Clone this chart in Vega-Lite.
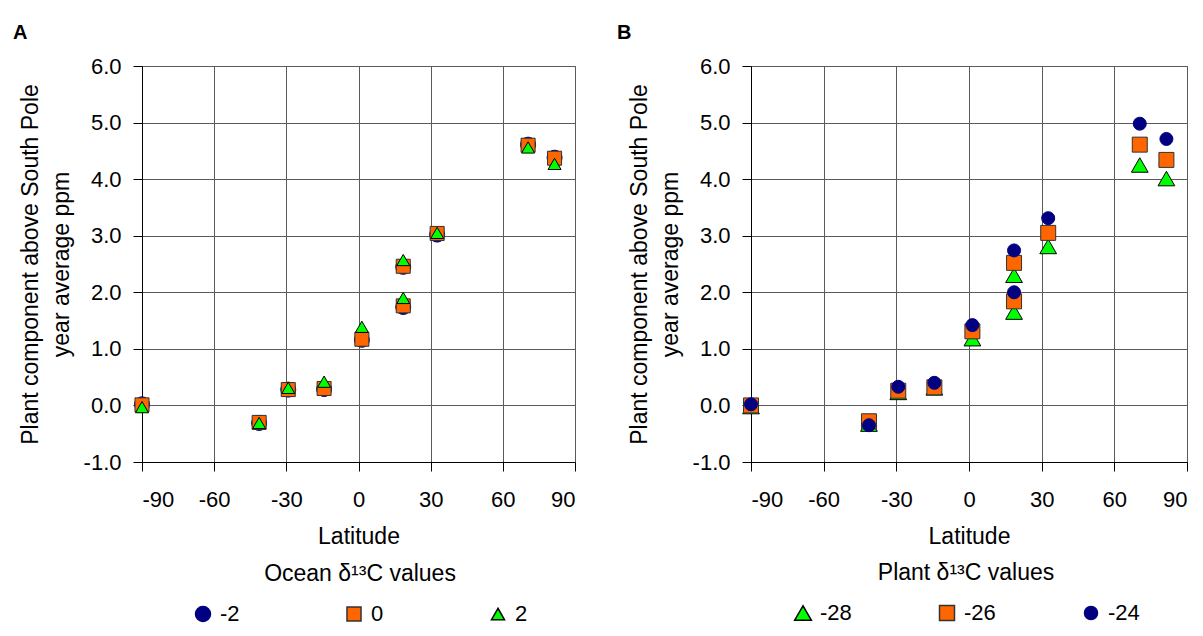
{
  "$schema": "https://vega.github.io/schema/vega-lite/v6.json",
  "background": "white",
  "padding": {"left": 12, "top": 22, "right": 0, "bottom": 0},
  "spacing": 40,
  "resolve": {
    "scale": {"shape": "independent", "fill": "independent", "stroke": "independent", "size": "independent"},
    "legend": {"shape": "independent", "fill": "independent", "stroke": "independent", "size": "independent"}
  },
  "config": {
    "font": "Liberation Sans",
    "view": {"stroke": "#666666", "strokeWidth": 1},
    "axis": {
      "labelFont": "Liberation Sans", "labelFontSize": 22, "labelColor": "#000000",
      "titleFont": "Liberation Sans", "titleFontSize": 23, "titleFontWeight": "normal", "titleColor": "#000000",
      "domainColor": "#000000", "tickColor": "#000000", "tickSize": 9,
      "grid": true, "gridColor": "#5a5a5a", "gridOpacity": 1
    },
    "legend": {
      "labelFont": "Liberation Sans", "labelFontSize": 22, "labelColor": "#000000",
      "titleFont": "Liberation Sans", "titleFontSize": 23, "titleFontWeight": "normal", "titleColor": "#000000",
      "titleLimit": 400, "labelOffset": 6
    },
    "title": {"font": "Liberation Sans", "fontSize": 20, "fontWeight": "bold", "anchor": "start", "color": "#000000"}
  },
  "hconcat": [
    {
      "width": 433,
      "height": 396,
      "title": {"text": "A", "offset": 12, "dx": -6, "fontSize": 20, "fontWeight": "bold", "font": "Liberation Sans", "color": "#000000"},
      "data": {"values": [
        {"lat": -90, "ppm": 0.02, "d13C": "-2"},
        {"lat": -41.3, "ppm": -0.31, "d13C": "-2"},
        {"lat": -29.2, "ppm": 0.28, "d13C": "-2"},
        {"lat": -14.3, "ppm": 0.29, "d13C": "-2"},
        {"lat": 1.4, "ppm": 1.16, "d13C": "-2"},
        {"lat": 18.6, "ppm": 1.74, "d13C": "-2"},
        {"lat": 18.6, "ppm": 2.45, "d13C": "-2"},
        {"lat": 32.7, "ppm": 3.02, "d13C": "-2"},
        {"lat": 70.5, "ppm": 4.61, "d13C": "-2"},
        {"lat": 81.5, "ppm": 4.38, "d13C": "-2"},
        {"lat": -90, "ppm": 0.01, "d13C": "0"},
        {"lat": -41.3, "ppm": -0.3, "d13C": "0"},
        {"lat": -29.2, "ppm": 0.28, "d13C": "0"},
        {"lat": -14.3, "ppm": 0.3, "d13C": "0"},
        {"lat": 1.4, "ppm": 1.17, "d13C": "0"},
        {"lat": 18.6, "ppm": 1.76, "d13C": "0"},
        {"lat": 18.6, "ppm": 2.46, "d13C": "0"},
        {"lat": 32.7, "ppm": 3.04, "d13C": "0"},
        {"lat": 70.5, "ppm": 4.6, "d13C": "0"},
        {"lat": 81.5, "ppm": 4.37, "d13C": "0"},
        {"lat": -90, "ppm": -0.03, "d13C": "2"},
        {"lat": -41.3, "ppm": -0.31, "d13C": "2"},
        {"lat": -29.2, "ppm": 0.31, "d13C": "2"},
        {"lat": -14.3, "ppm": 0.42, "d13C": "2"},
        {"lat": 1.4, "ppm": 1.39, "d13C": "2"},
        {"lat": 18.6, "ppm": 1.9, "d13C": "2"},
        {"lat": 18.6, "ppm": 2.57, "d13C": "2"},
        {"lat": 32.7, "ppm": 3.05, "d13C": "2"},
        {"lat": 70.5, "ppm": 4.56, "d13C": "2"},
        {"lat": 81.5, "ppm": 4.27, "d13C": "2"}
      ]},
      "mark": {"type": "point", "filled": true, "strokeWidth": 1, "opacity": 1},
      "encoding": {
        "x": {"field": "lat", "type": "quantitative",
          "scale": {"domain": [-90, 90], "nice": false, "zero": false},
          "axis": {"values": [-90, -60, -30, 0, 30, 60, 90], "labelExpr": "replace(format(datum.value, 'd'), '\u2212', '-')", "title": "Latitude", "labelPadding": 18, "titlePadding": 15}},
        "y": {"field": "ppm", "type": "quantitative",
          "scale": {"domain": [-1, 6], "nice": false, "zero": false},
          "axis": {"values": [-1, 0, 1, 2, 3, 4, 5, 6], "labelExpr": "replace(format(datum.value, '.1f'), '\u2212', '-')", "title": ["Plant component above South Pole", "year average ppm"], "titleLineHeight": 31, "labelPadding": 12, "titlePadding": 10}},
        "shape": {"field": "d13C", "type": "nominal",
          "scale": {"domain": ["-2", "0", "2"], "range": ["circle", "square", "triangle-up"]},
          "legend": {"orient": "none", "legendX": 50, "legendY": 497, "direction": "horizontal", "columns": 3, "columnPadding": 103, "title": "Ocean δ¹³C values", "titleAnchor": "middle", "titlePadding": 17}},
        "fill": {"field": "d13C", "type": "nominal",
          "scale": {"domain": ["-2", "0", "2"], "range": ["#000080", "#FF6600", "#00FF00"]},
          "legend": {"orient": "none", "legendX": 50, "legendY": 497, "direction": "horizontal", "columns": 3, "columnPadding": 103, "title": "Ocean δ¹³C values", "titleAnchor": "middle", "titlePadding": 17}},
        "stroke": {"field": "d13C", "type": "nominal",
          "scale": {"domain": ["-2", "0", "2"], "range": ["#000080", "#333333", "#000000"]},
          "legend": {"orient": "none", "legendX": 50, "legendY": 497, "direction": "horizontal", "columns": 3, "columnPadding": 103, "title": "Ocean δ¹³C values", "titleAnchor": "middle", "titlePadding": 17}},
        "size": {"field": "d13C", "type": "nominal",
          "scale": {"domain": ["-2", "0", "2"], "range": [225, 169, 280]},
          "legend": {"orient": "none", "legendX": 50, "legendY": 497, "direction": "horizontal", "columns": 3, "columnPadding": 103, "title": "Ocean δ¹³C values", "titleAnchor": "middle", "titlePadding": 17}}
      }
    },
    {
      "width": 436,
      "height": 396,
      "title": {"text": "B", "offset": 12, "dx": -11, "fontSize": 20, "fontWeight": "bold", "font": "Liberation Sans", "color": "#000000"},
      "data": {"values": [
        {"lat": -90, "ppm": -0.02, "d13C": "-28"},
        {"lat": -41.3, "ppm": -0.33, "d13C": "-28"},
        {"lat": -29.2, "ppm": 0.23, "d13C": "-28"},
        {"lat": -14.3, "ppm": 0.31, "d13C": "-28"},
        {"lat": 1.4, "ppm": 1.18, "d13C": "-28"},
        {"lat": 18.6, "ppm": 1.65, "d13C": "-28"},
        {"lat": 18.6, "ppm": 2.3, "d13C": "-28"},
        {"lat": 32.7, "ppm": 2.81, "d13C": "-28"},
        {"lat": 70.5, "ppm": 4.25, "d13C": "-28"},
        {"lat": 81.5, "ppm": 4.01, "d13C": "-28"},
        {"lat": -90, "ppm": 0.0, "d13C": "-26"},
        {"lat": -41.3, "ppm": -0.28, "d13C": "-26"},
        {"lat": -29.2, "ppm": 0.26, "d13C": "-26"},
        {"lat": -14.3, "ppm": 0.32, "d13C": "-26"},
        {"lat": 1.4, "ppm": 1.31, "d13C": "-26"},
        {"lat": 18.6, "ppm": 1.84, "d13C": "-26"},
        {"lat": 18.6, "ppm": 2.52, "d13C": "-26"},
        {"lat": 32.7, "ppm": 3.05, "d13C": "-26"},
        {"lat": 70.5, "ppm": 4.61, "d13C": "-26"},
        {"lat": 81.5, "ppm": 4.34, "d13C": "-26"},
        {"lat": -90, "ppm": 0.02, "d13C": "-24"},
        {"lat": -41.3, "ppm": -0.35, "d13C": "-24"},
        {"lat": -29.2, "ppm": 0.33, "d13C": "-24"},
        {"lat": -14.3, "ppm": 0.4, "d13C": "-24"},
        {"lat": 1.4, "ppm": 1.42, "d13C": "-24"},
        {"lat": 18.6, "ppm": 2.0, "d13C": "-24"},
        {"lat": 18.6, "ppm": 2.74, "d13C": "-24"},
        {"lat": 32.7, "ppm": 3.31, "d13C": "-24"},
        {"lat": 70.5, "ppm": 4.98, "d13C": "-24"},
        {"lat": 81.5, "ppm": 4.71, "d13C": "-24"}
      ]},
      "mark": {"type": "point", "filled": true, "strokeWidth": 1, "opacity": 1},
      "encoding": {
        "x": {"field": "lat", "type": "quantitative",
          "scale": {"domain": [-90, 90], "nice": false, "zero": false},
          "axis": {"values": [-90, -60, -30, 0, 30, 60, 90], "labelExpr": "replace(format(datum.value, 'd'), '\u2212', '-')", "title": "Latitude", "labelPadding": 18, "titlePadding": 15}},
        "y": {"field": "ppm", "type": "quantitative",
          "scale": {"domain": [-1, 6], "nice": false, "zero": false},
          "axis": {"values": [-1, 0, 1, 2, 3, 4, 5, 6], "labelExpr": "replace(format(datum.value, '.1f'), '\u2212', '-')", "title": ["Plant component above South Pole", "year average ppm"], "titleLineHeight": 31, "labelPadding": 12, "titlePadding": 10}},
        "shape": {"field": "d13C", "type": "nominal",
          "scale": {"domain": ["-28", "-26", "-24"], "range": ["triangle-up", "square", "circle"]},
          "legend": {"orient": "none", "legendX": 41, "legendY": 496, "direction": "horizontal", "columns": 3, "columnPadding": 84, "title": "Plant δ¹³C values", "titleAnchor": "middle", "titlePadding": 17}},
        "fill": {"field": "d13C", "type": "nominal",
          "scale": {"domain": ["-28", "-26", "-24"], "range": ["#00FF00", "#FF6600", "#000080"]},
          "legend": {"orient": "none", "legendX": 41, "legendY": 496, "direction": "horizontal", "columns": 3, "columnPadding": 84, "title": "Plant δ¹³C values", "titleAnchor": "middle", "titlePadding": 17}},
        "stroke": {"field": "d13C", "type": "nominal",
          "scale": {"domain": ["-28", "-26", "-24"], "range": ["#000000", "#333333", "#000080"]},
          "legend": {"orient": "none", "legendX": 41, "legendY": 496, "direction": "horizontal", "columns": 3, "columnPadding": 84, "title": "Plant δ¹³C values", "titleAnchor": "middle", "titlePadding": 17}},
        "size": {"field": "d13C", "type": "nominal",
          "scale": {"domain": ["-28", "-26", "-24"], "range": [280, 169, 225]},
          "legend": {"orient": "none", "legendX": 41, "legendY": 496, "direction": "horizontal", "columns": 3, "columnPadding": 84, "title": "Plant δ¹³C values", "titleAnchor": "middle", "titlePadding": 17}}
      }
    }
  ]
}
